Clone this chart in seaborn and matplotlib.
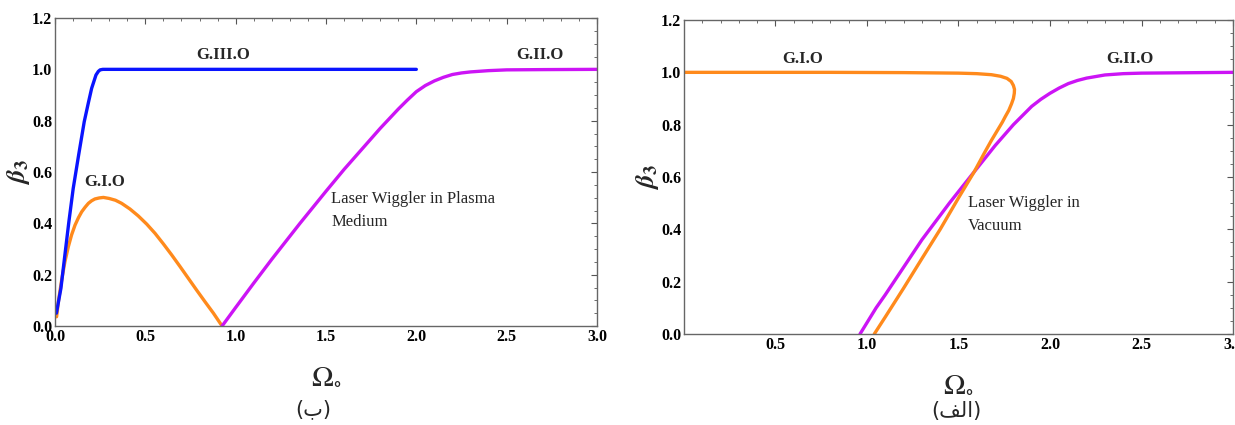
import numpy as np
import pandas as pd
import matplotlib
matplotlib.use("Agg")
import matplotlib.pyplot as plt
import seaborn as sb
from matplotlib.ticker import MultipleLocator

# ---- data ----
# left panel (plasma medium)
g3_x = [0.008, 0.033, 0.055, 0.077, 0.101, 0.131, 0.162, 0.185, 0.203, 0.227, 0.24, 0.25,
        0.265, 0.3, 2.0]
g3_y = [0.05, 0.147, 0.277, 0.406, 0.536, 0.666, 0.796, 0.87, 0.926, 0.978, 0.992, 0.998,
        1.0, 1.0, 1.0]

g1_x = [0.009, 0.02, 0.037, 0.055, 0.074, 0.092, 0.111, 0.13, 0.148, 0.167, 0.185, 0.203,
        0.221, 0.245, 0.268, 0.3, 0.335, 0.369, 0.415, 0.461, 0.508, 0.554, 0.6, 0.646,
        0.692, 0.738, 0.784, 0.83, 0.877, 0.925]
g1_y = [0.036, 0.1, 0.179, 0.25, 0.309, 0.355, 0.393, 0.422, 0.445, 0.463, 0.478, 0.488,
        0.495, 0.499, 0.501, 0.497, 0.49, 0.478, 0.456, 0.429, 0.397, 0.361, 0.32, 0.277,
        0.232, 0.186, 0.14, 0.095, 0.05, 0.0]

g2_x = [0.925, 1.0, 1.1, 1.2, 1.356, 1.5, 1.6, 1.7, 1.8, 1.9, 1.95, 2.0, 2.05, 2.1, 2.15,
        2.2, 2.25, 2.3, 2.4, 2.5, 2.7, 3.0]
g2_y = [0.0, 0.072, 0.167, 0.26, 0.40, 0.525, 0.61, 0.69, 0.77, 0.845, 0.88, 0.913, 0.937,
        0.955, 0.969, 0.98, 0.986, 0.99, 0.995, 0.998, 0.999, 1.0]

# right panel (vacuum)
v1_x = [0.0, 0.8, 1.2, 1.5, 1.6, 1.68, 1.73, 1.765, 1.788, 1.8, 1.806, 1.805, 1.80, 1.79,
        1.775, 1.755, 1.74, 1.71, 1.68, 1.64, 1.586, 1.5, 1.4, 1.3, 1.2, 1.1, 1.04]
v1_y = [1.0, 1.0, 0.999, 0.997, 0.995, 0.991, 0.985, 0.977, 0.965, 0.95, 0.935, 0.92, 0.9,
        0.88, 0.855, 0.83, 0.81, 0.775, 0.74, 0.69, 0.62, 0.52, 0.40, 0.288, 0.175, 0.065, 0.0]

v2_x = [0.962, 1.05, 1.1, 1.2, 1.3, 1.45, 1.586, 1.7, 1.8, 1.9, 1.95, 2.0, 2.05, 2.1, 2.15,
        2.2, 2.3, 2.4, 2.5, 3.0]
v2_y = [0.0, 0.1, 0.15, 0.255, 0.36, 0.50, 0.62, 0.72, 0.80, 0.87, 0.897, 0.92, 0.94, 0.957,
        0.969, 0.978, 0.99, 0.995, 0.997, 1.0]

xticks_left = [0.0, 0.5, 1.0, 1.5, 2.0, 2.5, 3.0]
xticks_right = [0.5, 1.0, 1.5, 2.0, 2.5, 3.0]
yticks = [0.0, 0.2, 0.4, 0.6, 0.8, 1.0, 1.2]

BLUE = "#0a14ff"
ORANGE = "#ff8a1c"
MAGENTA = "#cc14f5"

sb.set_style("white")
plt.rcParams["font.family"] = ["Liberation Serif", "DejaVu Sans"]
plt.rcParams["mathtext.fontset"] = "stix"

fig = plt.figure(figsize=(12.35, 4.25), dpi=100)
ax1 = fig.add_axes([0.0445, 0.2329, 0.4389, 0.7247])
ax2 = fig.add_axes([0.5538, 0.2141, 0.4446, 0.7388])


def line(ax, x, y, c):
    df = pd.DataFrame({"x": x, "y": y})
    sb.lineplot(data=df, x="x", y="y", ax=ax, color=c, lw=2.4, sort=False, estimator=None)


line(ax1, g1_x, g1_y, ORANGE)
line(ax1, g2_x, g2_y, MAGENTA)
line(ax1, g3_x, g3_y, BLUE)

line(ax2, v2_x, v2_y, MAGENTA)
line(ax2, v1_x, v1_y, ORANGE)

for ax, xt in ((ax1, xticks_left), (ax2, xticks_right)):
    ax.set_xlim(0, 3)
    ax.set_ylim(0, 1.2)
    ax.set_xticks(xt)
    ax.set_xticklabels([f"{v:.1f}" for v in xt], fontweight="bold")
    ax.set_yticks(yticks)
    ax.set_yticklabels([f"{v:.1f}" for v in yticks], fontweight="bold")
    ax.xaxis.set_minor_locator(MultipleLocator(0.1))
    ax.yaxis.set_minor_locator(MultipleLocator(0.05))
    ax.tick_params(which="both", direction="in", top=True, right=True, colors="#555555",
                   labelcolor="black", labelsize=11.5, pad=2)
    ax.tick_params(which="major", length=4, width=0.8)
    ax.tick_params(which="minor", length=2, width=0.6)
    for s in ax.spines.values():
        s.set_color("#666666")
        s.set_linewidth(1.0)
    ax.set_xlabel(r"$\Omega_{\circ}$", fontsize=21, labelpad=14)
    ax.set_ylabel(r"$\boldsymbol{\beta}_\mathbf{3}$", fontsize=19, labelpad=0)

bold = dict(fontsize=12, fontweight="bold", ha="center", va="center")
norm = dict(fontsize=12, ha="left", va="center", linespacing=1.55)

ax1.text(0.93, 1.055, "G.III.O", **bold)
ax1.text(0.277, 0.56, "G.I.O", **bold)
ax1.text(2.685, 1.055, "G.II.O", **bold)
ax1.text(1.53, 0.45, "Laser Wiggler in Plasma\nMedium", **norm)

ax2.text(0.65, 1.05, "G.I.O", **bold)
ax2.text(2.437, 1.05, "G.II.O", **bold)
ax2.text(1.552, 0.457, "Laser Wiggler in\nVacuum", **norm)

# subtitles (Arabic letters, given in presentation forms since matplotlib does no shaping)
fig.text(0.2535, 0.038, "(\u0628)", fontsize=15, ha="center", va="center", family=["DejaVu Sans"])
fig.text(0.7745, 0.033, "(\ufed2\ufedf\ufe8d)", fontsize=15, ha="center", va="center", family=["DejaVu Sans"])

fig.savefig("out.png", dpi=100)
